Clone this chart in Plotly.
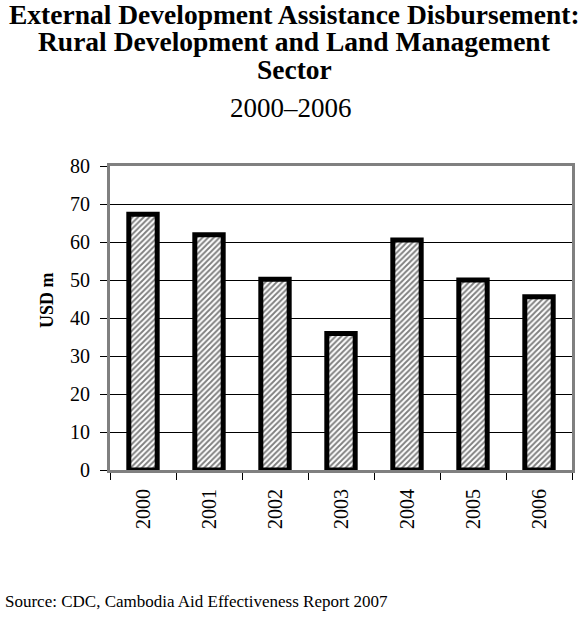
import plotly.graph_objects as go

years = ["2000", "2001", "2002", "2003", "2004", "2005", "2006"]
usd_m = [67.3, 61.9, 50.2, 35.9, 60.5, 50.0, 45.6]

title_lines = ["External Development Assistance Disbursement:",
               "Rural Development and Land Management",
               "Sector"]
subtitle = "2000–2006"
y_title = "USD m"
source = "Source: CDC, Cambodia Aid Effectiveness Report 2007"

FONT = "Liberation Serif, Times New Roman, serif"

W, H = 588, 623
L, R, T, B = 110, 16, 166, 153
PH = H - T - B
PW = W - L - R

def px_x(px):
    return (px - L) / PW

def px_y(py):
    return (H - B - py) / PH

fig = go.Figure()
fig.add_trace(go.Bar(
    x=years, y=usd_m, width=0.43,
    marker=dict(
        color="white",
        pattern=dict(shape="/", fgcolor="black", bgcolor="white", size=4, solidity=0.47),
        line=dict(color="black", width=5),
    ),
    hoverinfo="skip",
))

annotations = []
for txt, cy in zip(title_lines, [14, 41.5, 69]):
    annotations.append(dict(text="<b>%s</b>" % txt, x=px_x(294), y=px_y(cy),
                            xref="paper", yref="paper", xanchor="center", yanchor="middle",
                            showarrow=False, font=dict(family=FONT, size=27.5, color="black")))
annotations.append(dict(text=subtitle, x=px_x(290.5), y=px_y(108.5),
                        xref="paper", yref="paper", xanchor="center", yanchor="middle",
                        showarrow=False, font=dict(family=FONT, size=27, color="black")))
annotations.append(dict(text="<b>%s</b>" % y_title, x=px_x(47), y=px_y(300), textangle=-90,
                        xref="paper", yref="paper", xanchor="center", yanchor="middle",
                        showarrow=False, font=dict(family=FONT, size=18, color="black")))
annotations.append(dict(text=source, x=px_x(3), y=px_y(601),
                        xref="paper", yref="paper", xanchor="left", yanchor="middle",
                        showarrow=False, font=dict(family=FONT, size=17, color="black")))

fig.update_layout(
    width=W, height=H,
    margin=dict(l=L, r=R, t=T, b=B, pad=0),
    paper_bgcolor="white", plot_bgcolor="white",
    showlegend=False,
    font=dict(family=FONT, size=20, color="black"),
    annotations=annotations,
)
fig.update_yaxes(range=[0, 80], dtick=10, tick0=0,
                 showgrid=True, gridcolor="black", gridwidth=1,
                 zeroline=False,
                 showline=True, linecolor="#808080", linewidth=3, mirror=True,
                 ticks="outside", ticklen=7, tickcolor="black", tickwidth=1,
                 ticklabelstandoff=6,
                 tickfont=dict(family=FONT, size=20, color="black"))
fig.update_xaxes(type="category", tickson="boundaries",
                 showgrid=False, zeroline=False,
                 showline=True, linecolor="#808080", linewidth=3, mirror=True,
                 ticks="outside", ticklen=7, tickcolor="black", tickwidth=1,
                 tickangle=-90, ticklabelstandoff=8,
                 tickfont=dict(family=FONT, size=20, color="black"))

fig.write_html("out.html", config={"displayModeBar": False},
               post_script="document.body.style.margin='0';document.body.style.padding='0';")
